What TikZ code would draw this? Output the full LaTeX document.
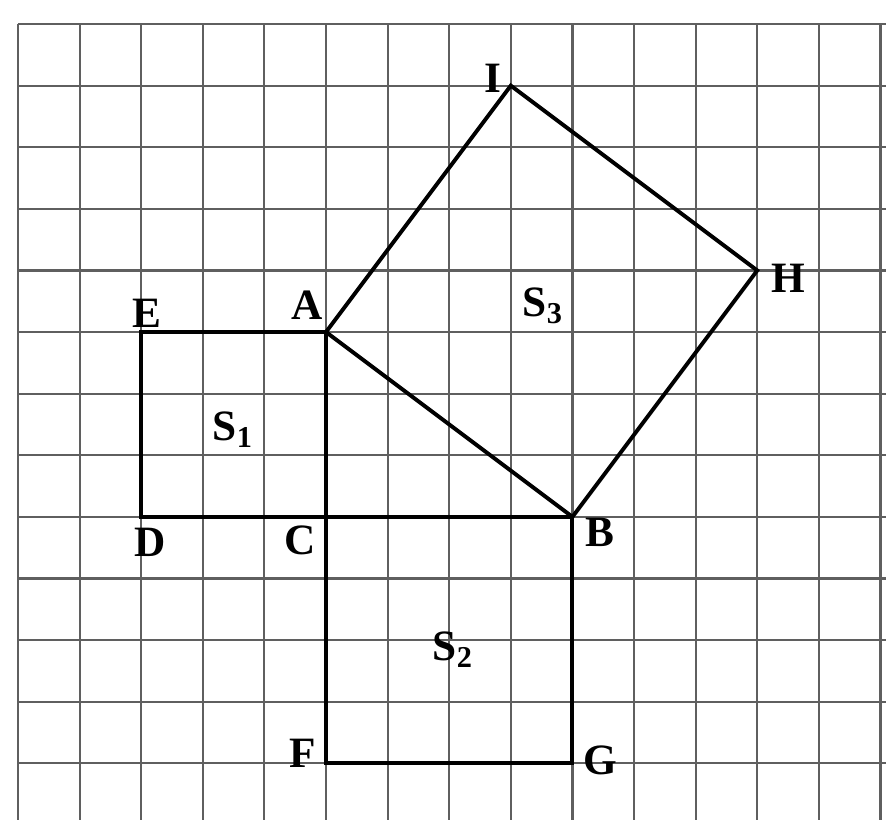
\documentclass[tikz,border=0pt]{standalone}
\usepackage{fontspec}
\setmainfont{Liberation Serif}
\usepackage{tikz}
\usetikzlibrary{positioning,calc}
\definecolor{gridgray}{RGB}{95,95,95}

\begin{document}
\begin{tikzpicture}[
    gridline/.style={draw=gridgray, line width=1pt},
    edge/.style={draw=black, line width=1.8pt, line join=miter},
    lbl/.style={font=\fontsize{20}{24}\selectfont\bfseries, inner sep=0pt}
]
    % Frame
    \useasboundingbox[fill=white] (-0.292,0.39) rectangle (14.09,-12.92);

    % Grid
    \begin{scope}
        \clip (-0.292,0.39) rectangle (14.09,-12.92);
        \draw[gridline] (0,0) grid (15,-13);
    \end{scope}

    % Vertices
    \coordinate (A) at (5,-5);
    \coordinate (B) at (9,-8);
    \coordinate (C) at (5,-8);
    \coordinate (D) at (2,-8);
    \coordinate (E) at (2,-5);
    \coordinate (F) at (5,-12);
    \coordinate (G) at (9,-12);
    \coordinate (H) at (12,-4);
    \coordinate (I) at (8,-1);

    % Squares
    \draw[edge] (A) -- (E) -- (D) -- (C) -- cycle;
    \draw[edge] (C) -- (B) -- (G) -- (F) -- cycle;
    \draw[edge] (A) -- (I) -- (H) -- (B) -- cycle;

    % Labels
    \node[lbl] (lA) at (4.69,-4.56) {A};
    \node[lbl] (lB) at (9.45,-8.26) {B};
    \node[lbl] (lC) at (4.58,-8.38) {C};
    \node[lbl] (lD) at (2.14,-8.41) {D};
    \node[lbl] (lE) at (2.09,-4.69) {E};
    \node[lbl] (lF) at (4.63,-11.84) {F};
    \node[lbl] (lG) at (9.45,-11.95) {G};
    \node[lbl] (lH) at (12.5,-4.12) {H};
    \node[lbl] (lI) at (7.71,-0.88) {I};

    % Areas
    \node[lbl] (s1) at (3.49,-6.58) {S\textsubscript{1}};
    \node[lbl] (s2) at (7.06,-10.15) {S\textsubscript{2}};
    \node[lbl] (s3) at (8.52,-4.57) {S\textsubscript{3}};
\end{tikzpicture}
\end{document}
